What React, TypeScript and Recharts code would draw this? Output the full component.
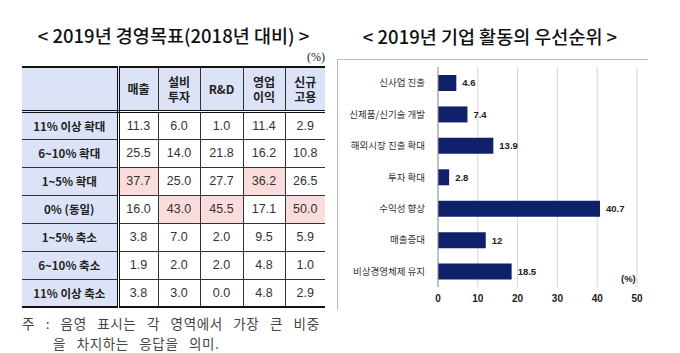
import { Bar, BarChart, CartesianGrid, LabelList, XAxis, YAxis } from 'recharts'

const goalColumns = ['매출', '설비\n투자', 'R&D', '영업\n이익', '신규\n고용']
const goalRows = ['11% 이상 확대', '6~10% 확대', '1~5% 확대', '0% (동일)', '1~5% 축소', '6~10% 축소', '11% 이상 축소']
const sales = [11.3, 25.5, 37.7, 16.0, 3.8, 1.9, 3.8]
const capex = [6.0, 14.0, 25.0, 43.0, 7.0, 2.0, 3.0]
const rnd = [1.0, 21.8, 27.7, 45.5, 2.0, 2.0, 0.0]
const opProfit = [11.4, 16.2, 36.2, 17.1, 9.5, 4.8, 4.8]
const hiring = [2.9, 10.8, 26.5, 50.0, 5.9, 1.0, 2.9]

const priorities = ['신사업 진출', '신제품/신기술 개발', '해외시장 진출 확대', '투자 확대', '수익성 향상', '매출증대', '비상경영체제 유지']
const shares = [4.6, 7.4, 13.9, 2.8, 40.7, 12, 18.5]
const shareTicks = [0, 10, 20, 30, 40, 50]

const KR = '"Noto Sans CJK KR", "Liberation Sans", sans-serif'
const NUM = '"Liberation Sans", Arial, sans-serif'
const LAVENDER = '#dde3f6'
const PINK = '#fadcdc'

const colWidths = [40, 42, 43, 42, 40]

function GoalTable() {
	const cols = [sales, capex, rnd, opProfit, hiring]
	const maxIdx = cols.map(c => c.indexOf(Math.max(...c)))
	const line = '1px solid #333'
	return (
		<table
			style={{
				position: 'absolute',
				left: 22,
				top: 66,
				borderCollapse: 'collapse',
				tableLayout: 'fixed',
				width: 303,
				fontFamily: KR,
			}}
		>
			<colgroup>
				<col style={{ width: 96 }} />
				{colWidths.map((w, i) => (
					<col key={i} style={{ width: w }} />
				))}
			</colgroup>
			<thead>
				<tr style={{ height: 44 }}>
					<th
						style={{
							background: LAVENDER,
							borderTop: '2px solid #111',
							borderBottom: '3px double #111',
							borderRight: '3px double #111',
						}}
					/>
					{goalColumns.map((c, i) => (
						<th
							key={c}
							style={{
								background: LAVENDER,
								borderTop: '2px solid #111',
								borderBottom: '3px double #111',
								borderLeft: i > 0 ? line : undefined,
								fontSize: 12,
								fontWeight: 700,
								lineHeight: '15px',
								color: '#222',
								whiteSpace: 'pre-line',
								padding: 0,
							}}
						>
							{c}
						</th>
					))}
				</tr>
			</thead>
			<tbody>
				{goalRows.map((r, ri) => {
					const last = ri === goalRows.length - 1
					const bottom = last ? '2px solid #111' : line
					return (
						<tr key={r} style={{ height: 28 }}>
							<td
								style={{
									background: LAVENDER,
									borderBottom: bottom,
									borderRight: '3px double #111',
									fontSize: 11.5,
									fontWeight: 700,
									color: '#222',
									textAlign: 'center',
									padding: 0,
									whiteSpace: 'nowrap',
								}}
							>
								{r}
							</td>
							{cols.map((c, ci) => (
								<td
									key={ci}
									style={{
										background: maxIdx[ci] === ri ? PINK : '#fff',
										borderBottom: bottom,
										borderLeft: ci > 0 ? line : undefined,
										fontFamily: NUM,
										fontSize: 12.5,
										color: '#333',
										textAlign: 'center',
										padding: 0,
									}}
								>
									{c[ri].toFixed(1)}
								</td>
							))}
						</tr>
					)
				})}
			</tbody>
		</table>
	)
}

const CategoryTick = (props: any) => (
	<text
		x={props.x}
		y={props.y}
		dy={3.5}
		textAnchor='end'
		fontSize={9.5}
		fill='#333'
		fontFamily={KR}
	>
		{props.payload.value}
	</text>
)

function PriorityChart() {
	const data = priorities.map((name, i) => ({ name, value: shares[i] }))
	return (
		<div
			style={{
				position: 'absolute',
				left: 337,
				top: 59,
				width: 310,
				height: 250,
				borderTop: '1px solid #bbb',
				borderLeft: '1px solid #bbb',
			}}
		>
			<BarChart
				width={310}
				height={250}
				data={data}
				layout='vertical'
				margin={{ top: 7, right: 11, left: 0, bottom: 0 }}
				barSize={16}
			>
				<CartesianGrid horizontal={false} stroke='#d4d4d4' />
				<XAxis
					type='number'
					domain={[0, 50]}
					ticks={shareTicks}
					axisLine={false}
					tickLine={false}
					height={23}
					tick={{ fontSize: 10, fontWeight: 700, fill: '#222', fontFamily: NUM }}
				/>
				<YAxis
					type='category'
					dataKey='name'
					width={100}
					axisLine={{ stroke: '#999' }}
					tickLine={false}
					tickMargin={7}
					tick={CategoryTick}
				/>
				<Bar dataKey='value' fill='#10216b' isAnimationActive={false}>
					<LabelList
						dataKey='value'
						position='right'
						offset={6}
						style={{ fontSize: 9.5, fontWeight: 700, fill: '#222', fontFamily: NUM }}
					/>
				</Bar>
			</BarChart>
			<div
				style={{
					position: 'absolute',
					left: 283,
					top: 213,
					fontSize: 9.5,
					fontWeight: 700,
					color: '#222',
					fontFamily: NUM,
				}}
			>
				(%)
			</div>
		</div>
	)
}

export default function App() {
	return (
		<div
			style={{
				position: 'absolute',
				left: 0,
				top: 0,
				width: 680,
				height: 353,
				background: '#fff',
				overflow: 'hidden',
			}}
		>
			<div
				style={{
					position: 'absolute',
					left: 22,
					width: 303,
					top: 23,
					textAlign: 'center',
					fontFamily: KR,
					fontSize: 18.5,
					fontWeight: 500,
					lineHeight: '24px',
					color: '#111',
					whiteSpace: 'nowrap',
				}}
			>
				{'< 2019년 경영목표(2018년 대비) >'}
			</div>
			<div
				style={{
					position: 'absolute',
					right: 680 - 325,
					top: 50,
					fontFamily: '"Liberation Serif", serif',
					fontSize: 12,
					color: '#222',
				}}
			>
				(%)
			</div>
			<GoalTable />
			<div
				style={{
					position: 'absolute',
					left: 22,
					top: 313,
					fontFamily: KR,
					fontSize: 13.5,
					lineHeight: '20px',
					letterSpacing: 0.6,
					color: '#444',
					whiteSpace: 'nowrap',
				}}
			>
				<div style={{ wordSpacing: 7 }}>주 : 음영 표시는 각 영역에서 가장 큰 비중</div>
				<div style={{ paddingLeft: 31, wordSpacing: 7 }}>을 차지하는 응답을 의미.</div>
			</div>
			<div
				style={{
					position: 'absolute',
					left: 345,
					width: 290,
					top: 24,
					textAlign: 'center',
					fontFamily: KR,
					fontSize: 18.5,
					fontWeight: 500,
					lineHeight: '24px',
					color: '#111',
					whiteSpace: 'nowrap',
				}}
			>
				{'< 2019년 기업 활동의 우선순위 >'}
			</div>
			<PriorityChart />
		</div>
	)
}
